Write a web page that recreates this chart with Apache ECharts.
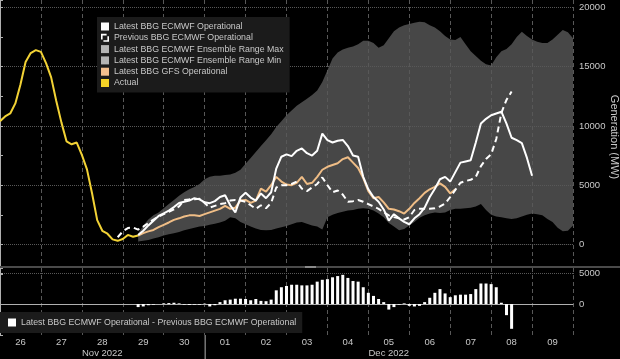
<!DOCTYPE html>
<html><head><meta charset="utf-8">
<script src="https://cdn.jsdelivr.net/npm/echarts@6/dist/echarts.min.js"></script>
<style>html,body{margin:0;padding:0;background:#000;}#c{width:620px;height:359px;}</style>
</head><body><div id="c"></div>
<script>
// ---- data (hours since 26 Nov 2022 00:00, 3-hour steps) ----
const dayLabels = ['26','27','28','29','30','01','02','03','04','05','06','07','08','09'];
const monthLabels = ['','','Nov 2022','','','','','','','Dec 2022','','','',''];
const mainTicks = [0, 5000, 10000, 15000, 20000];
const diffTicks = [0, 5000];
const STEP_H = 3;
const ACTUAL_START = 0;
const FC_START = 81;
const PREV_START = 69;
const MONTH_BOUNDARY_H = 120;

const actual = [10400,10800,11050,11900,13500,15400,16150,16400,16250,15300,14100,12100,10300,8700,8450,8600,7550,6330,4300,2050,1150,900,420,300,450,800,650,750];

const latestEcmwf = [800,1150,1600,2000,2400,2620,2850,3150,3500,3600,
 3700,3900,3800,3550,3480,3650,4000,4150,3300,2700,
 3950,4350,3950,3700,4300,3900,4400,6400,7400,7600,
 7450,7900,8100,7700,7500,7900,9350,8800,8600,8750,
 8820,8300,7500,7400,5700,4650,4000,3600,2950,2000,
 2550,2200,1900,1700,2200,2550,3100,4000,4700,5500,
 5700,5300,6100,6900,7000,7100,8600,10200,10600,10900,
 11050,11200,10200,9000,8800,8550,7300,5800];

const previousEcmwf = [600,1100,1380,1420,
 1250,1500,1800,2100,2350,2550,2750,2950,3200,3750,
 3800,3800,3850,3500,3100,3250,3400,3480,3700,3750,
 3700,3600,3300,3000,3300,3050,3500,4800,5000,5000,
 5100,5300,4700,4500,4800,5100,5650,5000,4400,4550,
 4200,3600,3650,3750,3600,3400,3200,3000,2700,2450,
 2300,2200,2100,2300,2900,3000,3000,3000,3050,3200,
 3450,4000,4600,5200,5350,5450,5700,6600,7200,7600,
 8900,11100,12200,12900];

const gfs = [750,950,1100,1220,1450,1650,1850,2070,2200,2350,
 2450,2450,2400,2550,2700,2850,3000,3250,3000,3100,
 3700,3750,3500,3700,4700,4450,5000,5700,5300,5050,
 5000,5200,5700,5100,5200,5700,6300,6550,6700,6850,
 7200,7350,6900,6450,5600,4500,3900,4000,3550,3000,
 2950,2800,2600,3000,3500,3900,4350,4650,4850,5150,
 4850,4300,4650];

const ensMax = [900,1600,2100,2450,2700,3050,3400,3750,4100,4400,
 4650,4850,5100,5500,5700,5800,5800,5850,5900,6050,
 6300,6800,7300,7800,8300,8800,9300,9900,10400,10900,
 11300,11700,12000,12300,12600,13000,13700,14700,15700,16200,
 16450,16600,16700,16900,17200,17200,17000,16600,16800,17400,
 18000,18300,18500,18600,18700,18800,18750,18500,18300,18000,
 17600,17300,17250,17500,16900,16300,15900,15500,15200,15100,
 15800,16300,16500,16900,17500,17950,17600,17300,17100,17000,
 17000,17300,17700,18100,17900,17400];

const ensMin = [250,300,380,500,600,750,850,950,1050,1200,
 1300,1400,1500,1550,1650,1750,1850,2000,2300,2200,
 1900,1700,1500,1350,1220,1200,1220,1350,1450,1550,
 1700,1850,1900,1750,1600,1500,1250,2300,2500,2650,
 2750,2850,2900,3000,3050,3000,2850,2600,2300,1800,
 1500,1200,1300,1600,1900,2250,2450,2600,2700,2650,
 2700,2900,3000,3000,3050,3100,3200,3400,2900,2500,
 2350,2300,2200,2150,2200,2350,2500,2600,2550,2450,
 2150,1900,1400,1100,1150,1600];

const diffLatestPrev = [-500,-400,-200,-100,0,100,150,200,100,-100,
 -150,-100,-100,50,-400,-200,300,600,700,850,
 850,800,600,800,500,450,700,2200,2700,2900,
 3100,3100,3000,3000,3100,3600,3900,4000,4300,4500,
 4700,4200,3700,3600,2700,1800,1300,800,300,-900,
 -500,-100,100,-300,-400,-300,300,1000,1800,2400,
 1700,1100,1400,1500,1500,1600,2400,3300,3300,3200,
 2700,200,-1800,-4000];

// ---- names ----
const N_LATEST = 'Latest BBG ECMWF Operational';
const N_PREV = 'Previous BBG ECMWF Operational';
const N_MAX = 'Latest BBG ECMWF Ensemble Range Max';
const N_MIN = 'Latest BBG ECMWF Ensemble Range Min';
const N_GFS = 'Latest BBG GFS Operational';
const N_ACT = 'Actual';
const N_DIFF = 'Latest BBG ECMWF Operational - Previous BBG ECMWF Operational';

const FONT = "'Liberation Sans',Arial,sans-serif";
const TXT = '#c8c8c8';
const GRIDC = '#585858';
const AXC = '#b0b0b0';

const pairs = (start, arr) => arr.map((v, i) => [start + i * STEP_H, v]);

const chart = echarts.init(document.getElementById('c'), null, {renderer: 'canvas'});
const xBase = {type: 'value', min: 0, max: 336, interval: 24, z: 1,
  axisLabel: {show: false}, axisTick: {show: false},
  splitLine: {show: true, lineStyle: {color: GRIDC, type: [4, 3], width: 1}}};

const sepLines = (sx, sy) => [
  {type: 'rect', z: 10, shape: {x: 0, y: 266, width: 620, height: 2}, style: {fill: '#4a4a4a'}},
  {type: 'rect', z: 11, shape: {x: 305, y: 266, width: 11, height: 2}, style: {fill: '#8a8a8a'}},
  {type: 'line', z: 10, invisible: sx == null,
   shape: {x1: (sx || 0) + 0.5, y1: sy || 0, x2: (sx || 0) + 0.5, y2: 359}, style: {stroke: AXC, lineWidth: 1}}
];

chart.setOption({
  animation: false,
  backgroundColor: '#000',
  textStyle: {fontFamily: FONT},
  grid: [
    {left: 0, right: 47, top: 0, height: 274, outerBoundsMode: 'none', containLabel: false},
    {left: 0, right: 47, top: 268, height: 67, outerBoundsMode: 'none', containLabel: false}
  ],
  xAxis: [
    Object.assign({}, xBase, {gridIndex: 0, axisLine: {show: false}}),
    Object.assign({}, xBase, {gridIndex: 1, axisLine: {show: true, lineStyle: {color: AXC, width: 1}}}),
    {type: 'category', gridIndex: 1, position: 'bottom', data: dayLabels, boundaryGap: true,
     axisLine: {show: false}, axisTick: {show: false}, splitLine: {show: false},
     axisLabel: {interval: 0, color: TXT, fontSize: 9.5, margin: 2, fontFamily: FONT}},
    {type: 'category', gridIndex: 1, position: 'bottom', data: dayLabels, boundaryGap: true,
     axisLine: {show: false}, axisTick: {show: false}, splitLine: {show: false},
     axisLabel: {interval: 0, color: TXT, fontSize: 9.5, margin: 13, fontFamily: FONT,
       formatter: (v, i) => monthLabels[i]}}
  ],
  yAxis: [
    {type: 'value', gridIndex: 0, position: 'right', min: -2500, max: 20630, interval: 2500, z: 1,
     axisLine: {show: true, lineStyle: {color: AXC}},
     axisTick: {show: true, length: 3, lineStyle: {color: AXC}},
     axisLabel: {color: TXT, fontSize: 9.5, margin: 6, fontFamily: FONT,
       formatter: (v) => mainTicks.includes(v) ? String(v) : ''},
     splitLine: {show: true, lineStyle: {color: ['transparent', GRIDC], type: 'dotted', width: 1}},
     name: 'Generation (MW)', nameLocation: 'middle', nameRotate: -90, nameGap: 36,
     nameMoveOverlap: false,
     nameTextStyle: {color: TXT, fontSize: 11, fontFamily: FONT}},
    {type: 'value', gridIndex: 1, position: 'right', min: -5000, max: 5800, interval: 5000, z: 1,
     axisLine: {show: true, lineStyle: {color: AXC}},
     axisTick: {show: true, length: 3, lineStyle: {color: AXC}},
     axisLabel: {color: TXT, fontSize: 9.5, margin: 6, fontFamily: FONT,
       formatter: (v) => diffTicks.includes(v) ? String(v) : ''},
     splitLine: {show: true, lineStyle: {color: ['transparent', GRIDC, GRIDC, 'transparent'], type: 'dotted', width: 1}}}
  ],
  legend: [
    {orient: 'vertical', left: 97, top: 17, padding: [4, 6, 4, 4],
     backgroundColor: '#1b1b1b', itemWidth: 8, itemHeight: 8, itemGap: 0.3,
     textStyle: {color: TXT, fontSize: 8.8, lineHeight: 11, fontFamily: FONT},
     itemStyle: {borderWidth: 0}, selectedMode: false,
     data: [
       {name: N_LATEST, icon: 'rect', itemStyle: {color: '#ffffff'}},
       {name: N_PREV, icon: 'path://M0,0H7V2H2V7H0Z M10,3V10H3V8H8V3Z', itemStyle: {color: '#ffffff'}},
       {name: N_MAX, icon: 'rect', itemStyle: {color: '#b4b4b4'}},
       {name: N_MIN, icon: 'rect', itemStyle: {color: '#b4b4b4'}},
       {name: N_GFS, icon: 'rect', itemStyle: {color: '#f4c08e'}},
       {name: N_ACT, icon: 'rect', itemStyle: {color: '#f5d327'}}
     ]},
    {orient: 'horizontal', left: 0, top: 312, padding: [5, 6, 5, 8],
     backgroundColor: '#1b1b1b', itemWidth: 8, itemHeight: 8,
     textStyle: {color: TXT, fontSize: 8.8, lineHeight: 11, fontFamily: FONT},
     itemStyle: {borderWidth: 0}, selectedMode: false,
     data: [{name: N_DIFF, icon: 'rect', itemStyle: {color: '#ffffff'}}]}
  ],
  graphic: sepLines(null, null),
  series: [
    {name: N_MAX, type: 'line', xAxisIndex: 0, yAxisIndex: 0, z: 0,
     data: pairs(FC_START, ensMax), symbol: 'none',
     lineStyle: {width: 0, opacity: 0}, itemStyle: {color: '#b4b4b4'},
     areaStyle: {color: '#474747', opacity: 1}},
    {name: N_MIN, type: 'line', xAxisIndex: 0, yAxisIndex: 0, z: 0,
     data: pairs(FC_START, ensMin), symbol: 'none',
     lineStyle: {width: 0, opacity: 0}, itemStyle: {color: '#b4b4b4'},
     areaStyle: {color: '#000000', opacity: 1}},
    {name: N_ACT, type: 'line', xAxisIndex: 0, yAxisIndex: 0, z: 3,
     data: pairs(ACTUAL_START, actual), symbol: 'none',
     lineStyle: {color: '#f2d235', width: 2}, itemStyle: {color: '#f5d327'}},
    {name: N_GFS, type: 'line', xAxisIndex: 0, yAxisIndex: 0, z: 3,
     data: pairs(FC_START, gfs), symbol: 'none',
     lineStyle: {color: '#efbd86', width: 2}, itemStyle: {color: '#f4c08e'}},
    {name: N_PREV, type: 'line', xAxisIndex: 0, yAxisIndex: 0, z: 4,
     data: pairs(PREV_START, previousEcmwf), symbol: 'none',
     lineStyle: {color: '#ffffff', width: 2, type: [6, 4]}, itemStyle: {color: '#ffffff'}},
    {name: N_LATEST, type: 'line', xAxisIndex: 0, yAxisIndex: 0, z: 5,
     data: pairs(FC_START, latestEcmwf), symbol: 'none',
     lineStyle: {color: '#ffffff', width: 2}, itemStyle: {color: '#ffffff'}},
    {name: N_DIFF, type: 'bar', xAxisIndex: 1, yAxisIndex: 1, z: 3,
     data: pairs(FC_START, diffLatestPrev), barWidth: 3,
     itemStyle: {color: '#ffffff'}}
  ]
});

// month separator below the axis at the 1 Dec boundary, placed through the axis scale
const sepX = chart.convertToPixel({xAxisIndex: 1}, MONTH_BOUNDARY_H);
const axisY = chart.convertToPixel({yAxisIndex: 1}, -5000);
chart.setOption({graphic: sepLines(sepX, axisY)});
</script>
</body></html>
